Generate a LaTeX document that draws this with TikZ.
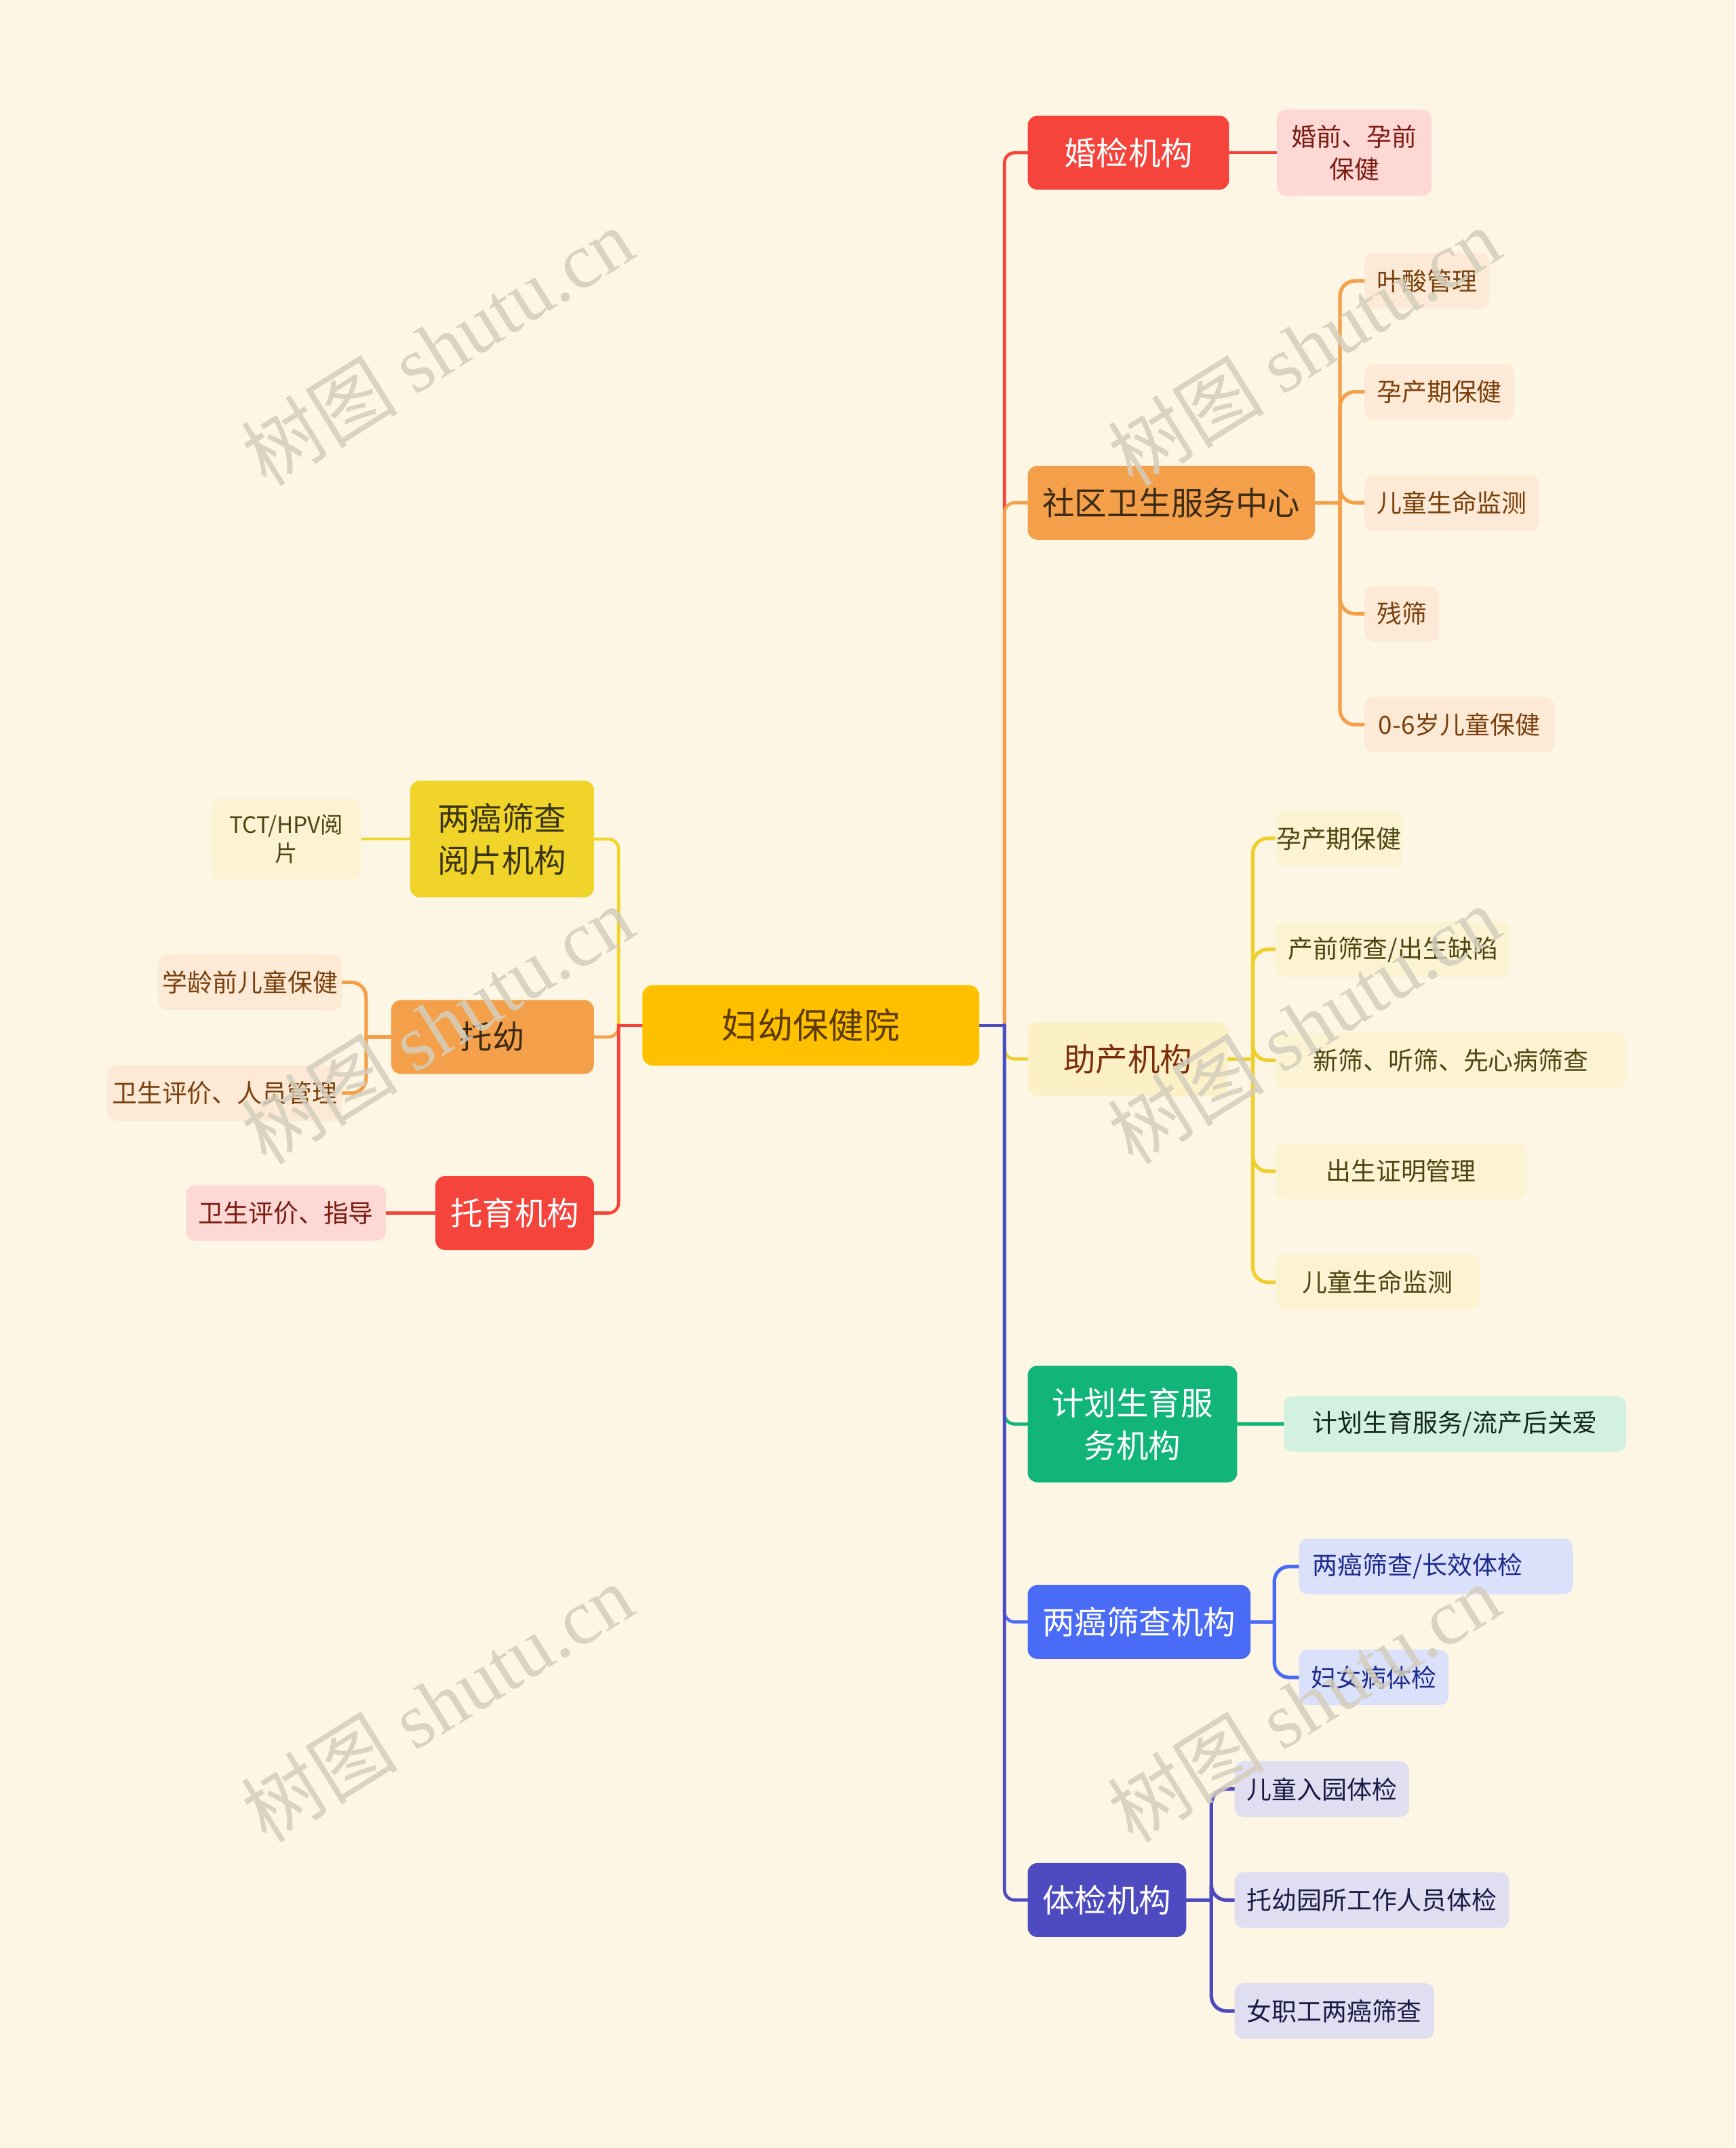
\documentclass[tikz,border=0pt]{standalone}
\usepackage{fontspec}
\setmainfont{Noto Sans CJK SC}
\newfontfamily\wmserif{Liberation Serif}
\usepackage{tikz}
\usetikzlibrary{backgrounds}

\definecolor{paper}{HTML}{FEF6E4}
\definecolor{wmgray}{HTML}{D4CEBC}
\definecolor{rootfill}{HTML}{FFC000}
\definecolor{rootink}{HTML}{5C3A00}
\definecolor{hjred}{HTML}{F5443B}
\definecolor{redleaf}{HTML}{FDD8D4}
\definecolor{redink}{HTML}{7A1C12}
\definecolor{sqorange}{HTML}{F4A04B}
\definecolor{orangeleaf}{HTML}{FCEAD6}
\definecolor{orangeink}{HTML}{7A400E}
\definecolor{darkink}{HTML}{3C2A12}
\definecolor{zcline}{HTML}{EFCF2E}
\definecolor{zcfill}{HTML}{FCF0C6}
\definecolor{zcink}{HTML}{7C2E0C}
\definecolor{yellowleaf}{HTML}{FBF3D2}
\definecolor{yellowink}{HTML}{4E4612}
\definecolor{ypyellow}{HTML}{F1D42A}
\definecolor{ypink}{HTML}{3A3512}
\definecolor{jhgreen}{HTML}{11B57A}
\definecolor{greenleaf}{HTML}{D3F1E1}
\definecolor{greenink}{HTML}{13281C}
\definecolor{lablue}{HTML}{4A6BF5}
\definecolor{blueleaf}{HTML}{DBE1FA}
\definecolor{blueink}{HTML}{1D2B8A}
\definecolor{tjindigo}{HTML}{4E4BC0}
\definecolor{indigoleaf}{HTML}{E0DEF1}
\definecolor{indigoink}{HTML}{1B1A45}

\begin{document}
\begin{tikzpicture}[x=0.020205cm, y=-0.020205cm,
                    root/.style = {rectangle,
                                   rounded corners = 0.16cm,
                                   fill = rootfill,
                                   text = rootink,
                                   minimum width = 4.97cm,
                                   minimum height = 1.19cm,
                                   font = \fontsize{14.9}{18}\selectfont},
                    topic/.style = {rectangle,
                                    rounded corners = 0.14cm,
                                    minimum height = 1.09cm,
                                    inner xsep = 0.22cm,
                                    align = center,
                                    font = \fontsize{13.5}{17.8}\selectfont},
                    leaf/.style = {rectangle,
                                   rounded corners = 0.13cm,
                                   minimum height = 0.82cm,
                                   inner xsep = 0.18cm,
                                   align = center,
                                   font = \fontsize{10.5}{13.8}\selectfont},
                    link/.style = {line width = 1.3pt, line cap = rect,
                                   rounded corners = 0.15cm},
                    twig/.style = {line width = 1.5pt, line cap = rect,
                                   rounded corners = 0.22cm},
                    wmark/.style = {rotate = 32, text = wmgray, opacity = 0.85,
                                    font = \fontsize{33}{33}\selectfont}]

\useasboundingbox (0,0) rectangle (1267,1568);

% centre
\node[root] (root) at (592,748.5) {妇幼保健院};

% right side
\node[topic, anchor = west, fill = hjred, text = white, minimum width = 2.97cm] (hunjian) at (750,111.5) {婚检机构};
\node[leaf, anchor = west, fill = redleaf, text = redink, minimum width = 2.28cm, minimum height = 1.27cm] (hunqian) at (932,111.5) {婚前、孕前\\保健};

\node[topic, anchor = west, fill = sqorange, text = darkink] (shequ) at (750,367) {社区卫生服务中心};
\node[leaf, anchor = west, fill = orangeleaf, text = orangeink, minimum width = 1.84cm] (yesuan) at (996,205) {叶酸管理};
\node[leaf, anchor = west, fill = orangeleaf, text = orangeink, minimum width = 2.18cm] (yunchan) at (996,286) {孕产期保健};
\node[leaf, anchor = west, fill = orangeleaf, text = orangeink, minimum width = 2.57cm] (jiance) at (996,367) {儿童生命监测};
\node[leaf, anchor = west, fill = orangeleaf, text = orangeink, minimum width = 1.09cm] (canshai) at (996,448) {残筛};
\node[leaf, anchor = west, fill = orangeleaf, text = orangeink, minimum width = 2.79cm] (ertong) at (996,529) {0-6岁儿童保健};

\node[topic, anchor = west, fill = zcfill, text = zcink, minimum width = 2.95cm] (zhuchan) at (750,773) {助产机构};
\node[leaf, anchor = west, fill = yellowleaf, text = yellowink, inner xsep = 0.01cm, minimum width = 1.86cm] (zcyunchan) at (931,612) {孕产期保健};
\node[leaf, anchor = west, fill = yellowleaf, text = yellowink, minimum width = 3.46cm] (chanqian) at (931,693) {产前筛查/出生缺陷};
\node[leaf, anchor = west, fill = yellowleaf, text = yellowink, minimum width = 5.17cm] (xinshai) at (931,774) {新筛、听筛、先心病筛查};
\node[leaf, anchor = west, fill = yellowleaf, text = yellowink, minimum width = 3.70cm] (zhengming) at (931,855) {出生证明管理};
\node[leaf, anchor = west, fill = yellowleaf, text = yellowink, minimum width = 3.01cm] (zcjiance) at (931,936) {儿童生命监测};

\node[topic, anchor = west, fill = jhgreen, text = white, minimum width = 3.09cm, minimum height = 1.72cm] (jihua) at (750,1039.5) {计划生育服\\务机构};
\node[leaf, anchor = west, fill = greenleaf, text = greenink, minimum width = 5.05cm] (liuchan) at (937,1039.5) {计划生育服务/流产后关爱};

\node[topic, anchor = west, fill = lablue, text = white] (liangai) at (750,1184) {两癌筛查机构};
\node[leaf, anchor = west, fill = blueleaf, text = blueink, text width = 3.64cm, inner xsep = 0.2cm, align = left] (changxiao) at (948,1143.5) {两癌筛查/长效体检};
\node[leaf, anchor = west, fill = blueleaf, text = blueink] (funv) at (948,1224.5) {妇女病体检};

\node[topic, anchor = west, fill = tjindigo, text = white] (tijian) at (750,1387) {体检机构};
\node[leaf, anchor = west, fill = indigoleaf, text = indigoink] (ruyuan) at (901,1306) {儿童入园体检};
\node[leaf, anchor = west, fill = indigoleaf, text = indigoink] (gongzuo) at (901,1387) {托幼园所工作人员体检};
\node[leaf, anchor = west, fill = indigoleaf, text = indigoink] (nvzhigong) at (901,1468) {女职工两癌筛查};

% left side
\node[topic, anchor = east, fill = ypyellow, text = ypink, minimum width = 2.71cm, minimum height = 1.72cm] (yuepian) at (434,612.5) {两癌筛查\\阅片机构};
\node[leaf, anchor = east, fill = yellowleaf, text = yellowink, minimum width = 2.2cm, minimum height = 1.19cm,
      font = \fontsize{9.5}{12}\selectfont] (tct) at (264,612.5) {TCT/HPV阅\\片};

\node[topic, anchor = east, fill = sqorange, text = darkink, minimum width = 2.99cm] (tuoyou) at (434,757) {托幼};
\node[leaf, anchor = east, fill = orangeleaf, text = orangeink, inner xsep = 0.06cm, minimum width = 2.71cm] (xueling) at (250,717) {学龄前儿童保健};
\node[leaf, anchor = east, fill = orangeleaf, text = orangeink, inner xsep = 0.06cm, minimum width = 3.46cm] (renyuan) at (250,798) {卫生评价、人员管理};

\node[topic, anchor = east, fill = hjred, text = white] (tuoyu) at (434,885.5) {托育机构};
\node[leaf, anchor = east, fill = redleaf, text = redink] (zhidao) at (282,885.5) {卫生评价、指导};

% connectors
\begin{scope}[on background layer]
\fill[paper] (0,0) rectangle (1267,1568);

\path (root.east) ++(18,0) coordinate (rt);
\path (root.west) ++(-17,0) coordinate (lt);

\draw[link, hjred]    (rt) |- (hunjian.west);
\draw[link, sqorange] (rt) |- (shequ.west);
\draw[link, zcline]   (rt) |- (zhuchan.west);
\draw[link, jhgreen]  (rt) |- (jihua.west);
\draw[link, lablue]   (rt) |- (liangai.west);
\draw[link, tjindigo] (rt) |- (tijian.west);
\draw[link, tjindigo] (root.east) -- (rt);

\draw[link, ypyellow] (lt) |- (yuepian.east);
\draw[link, sqorange] (lt) |- (tuoyou.east);
\draw[link, hjred]    (lt) |- (tuoyu.east);
\draw[link, hjred]    (root.west) -- (lt);

\draw[link, hjred]    (hunjian.east) -- (hunqian.west);
\draw[link, jhgreen]  (jihua.east) -- (liuchan.west);
\draw[link, ypyellow] (yuepian.west) -- (tct.east);
\draw[link, hjred]    (tuoyu.west) -- (zhidao.east);

\path (shequ.east) ++(18,0) coordinate (sqj);
\draw[twig, sqorange] (shequ.east) -- (sqj);
\foreach \c in {yesuan, yunchan, jiance, canshai, ertong}
  \draw[twig, sqorange] (sqj) |- (\c.west);

\path (zhuchan.east) ++(18,0) coordinate (zcj);
\draw[twig, zcline] (zhuchan.east) -- (zcj);
\foreach \c in {zcyunchan, chanqian, xinshai, zhengming, zcjiance}
  \draw[twig, zcline] (zcj) |- (\c.west);

\path (liangai.east) ++(17,0) coordinate (laj);
\draw[twig, lablue] (liangai.east) -- (laj);
\foreach \c in {changxiao, funv}
  \draw[twig, lablue] (laj) |- (\c.west);

\path (tijian.east) ++(18,0) coordinate (tjj);
\draw[twig, tjindigo] (tijian.east) -- (tjj);
\foreach \c in {ruyuan, gongzuo, nvzhigong}
  \draw[twig, tjindigo] (tjj) |- (\c.west);

\path (tuoyou.west) ++(-18,0) coordinate (tyj);
\draw[twig, sqorange] (tuoyou.west) -- (tyj);
\foreach \c in {xueling, renyuan}
  \draw[twig, sqorange] (tyj) |- (\c.east);
\end{scope}

% watermark
\foreach \wx/\wy in {319/253, 952/253, 319/748, 952/748, 319/1243, 952/1243}
  \node[wmark] at (\wx,\wy) {树图 {\wmserif shutu.cn}};

\end{tikzpicture}
\end{document}
